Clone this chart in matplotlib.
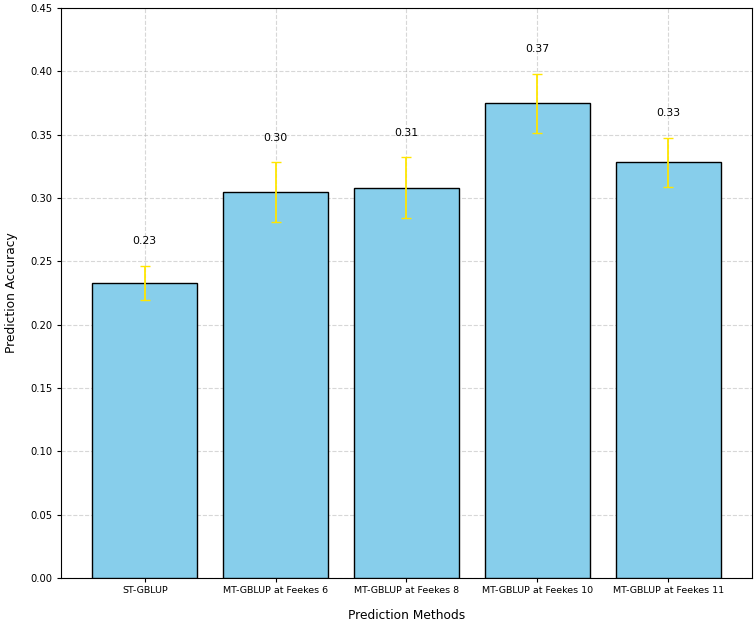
import matplotlib
matplotlib.use("Agg")
import matplotlib.pyplot as plt

methods = ["ST-GBLUP", "MT-GBLUP at Feekes 6", "MT-GBLUP at Feekes 8",
           "MT-GBLUP at Feekes 10", "MT-GBLUP at Feekes 11"]
accuracy = [0.233, 0.3045, 0.308, 0.3748, 0.3283]
errors = [0.0134, 0.0237, 0.024, 0.0233, 0.0194]

fig = plt.figure(figsize=(7.56, 6.24), dpi=100)
ax = fig.add_axes([61/756, 46/624, 691/756, 570/624])

x = list(range(len(methods)))
ax.bar(x, accuracy, yerr=errors, color="skyblue", edgecolor="black",
       linewidth=1, capsize=3.5, ecolor="#FFE600", width=0.8, zorder=3,
       error_kw=dict(elinewidth=1.3, capthick=1.0, zorder=4))
for xi, v, e in zip(x, accuracy, errors):
    ax.text(xi, v + e + 0.0155, f"{v:.2f}", ha="center", va="bottom", fontsize=7.8)

ax.set_xticks(x)
ax.set_xticklabels(methods, fontsize=6.8)
ax.tick_params(axis="y", labelsize=7.2)
ax.tick_params(length=3, pad=3)
ax.set_ylim(0, 0.45)
ax.set_xlabel("Prediction Methods", fontsize=8.8, labelpad=10)
ax.set_ylabel("Prediction Accuracy", fontsize=8.8, labelpad=9)
ax.grid(True, linestyle="--", alpha=0.5, zorder=0)
ax.set_axisbelow(True)

fig.savefig("out.png", dpi=100)
